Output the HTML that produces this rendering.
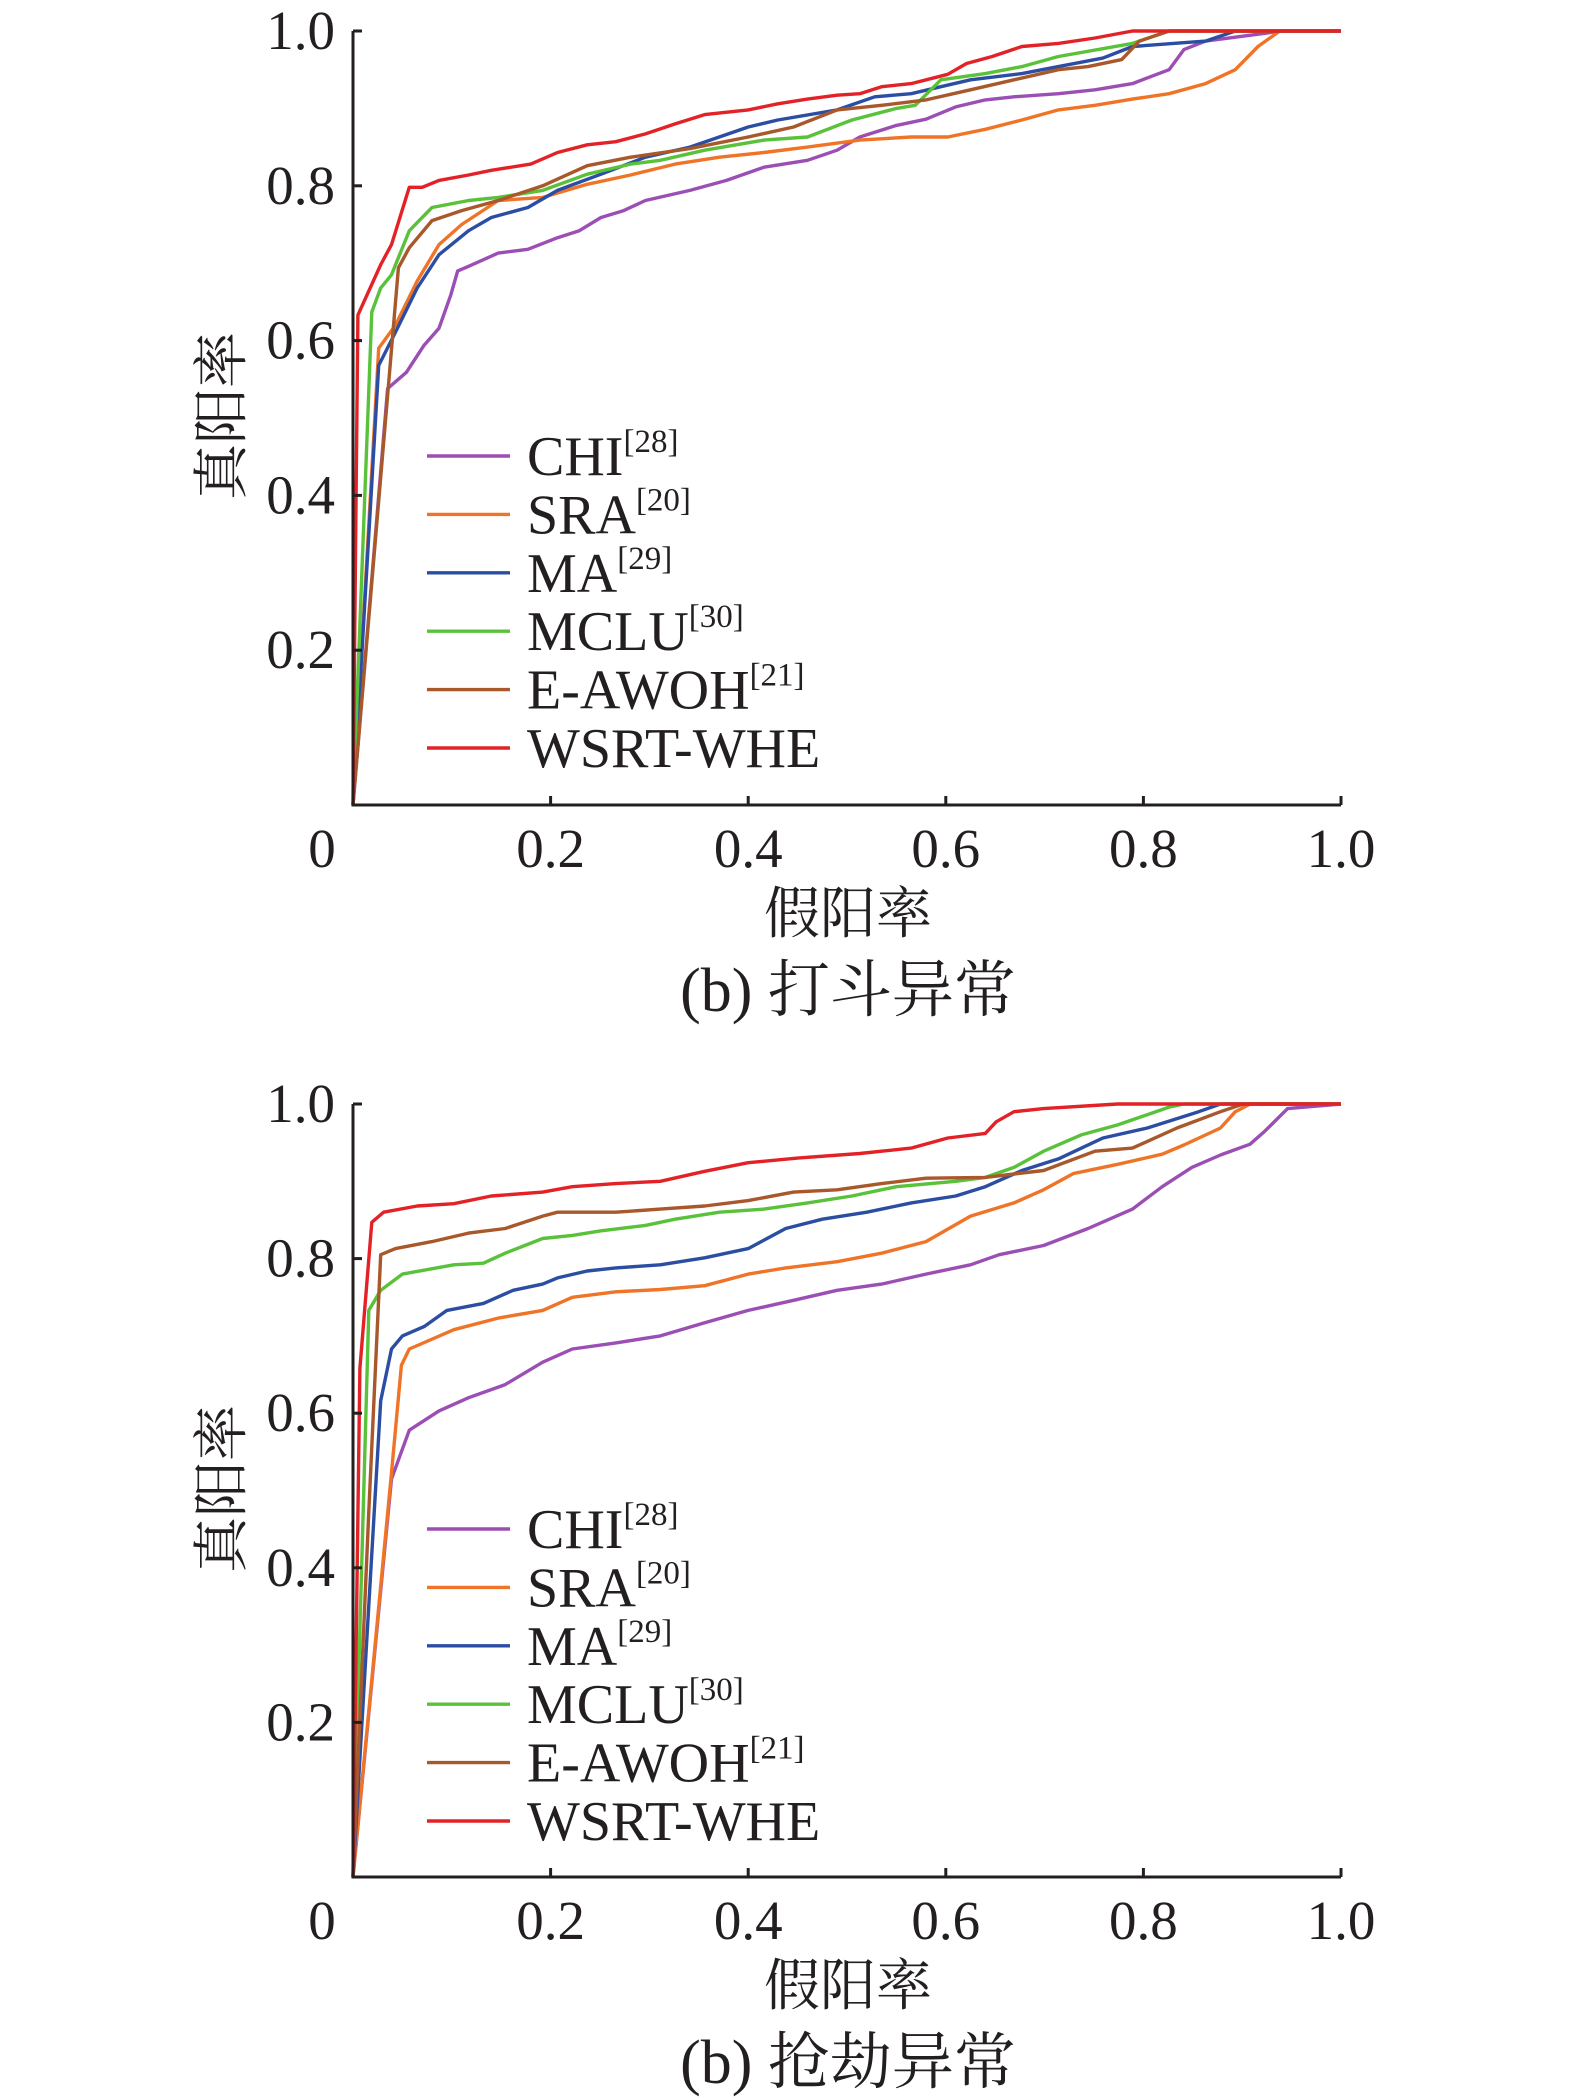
<!DOCTYPE html>
<html><head><meta charset="utf-8"><style>
html,body{margin:0;padding:0;background:#fff;}
svg{display:block;}
text{font-family:"Liberation Serif","Noto Serif CJK SC","Noto Sans CJK SC",serif;fill:#231f20;}
</style></head><body>
<svg id="chart" width="1575" height="2100" viewBox="0 0 1575 2100" xmlns="http://www.w3.org/2000/svg"></svg>
<script>
const seriesNames = ["CHI","SRA","MA","MCLU","E-AWOH","WSRT-WHE"];
const seriesRefs = ["[28]","[20]","[29]","[30]","[21]",""];
const seriesColors = ["#9b4fb4","#f07427","#2b4ea3","#5ac23a","#a8582a","#e32228"];
const tickLabels = ["0","0.2","0.4","0.6","0.8","1.0"];
const tickValues = [0,0.2,0.4,0.6,0.8,1.0];

// Panel 1: 打斗异常
const p1_CHI_x=[0,.035,.054,.072,.087,.099,.106,.117,.147,.177,.207,.229,.251,.274,.296,.341,.378,.416,.46,.49,.513,.55,.58,.61,.64,.669,.714,.751,.789,.826,.841,.863,.923,.938,1];
const p1_CHI_y=[0,.538,.559,.594,.616,.659,.69,.696,.713,.718,.733,.742,.759,.768,.781,.794,.807,.824,.833,.846,.863,.878,.886,.902,.911,.915,.919,.924,.932,.95,.976,.987,.997,1,1];
const p1_SRA_x=[0,.026,.043,.065,.087,.11,.147,.192,.237,.281,.326,.371,.416,.46,.513,.565,.602,.64,.677,.714,.751,.789,.826,.863,.893,.916,.938,1];
const p1_SRA_y=[0,.59,.62,.677,.724,.75,.781,.785,.802,.814,.828,.837,.843,.85,.859,.863,.863,.873,.885,.898,.904,.912,.919,.932,.95,.98,1,1];
const p1_MA_x=[0,.026,.043,.065,.087,.117,.14,.177,.207,.251,.296,.341,.4,.43,.49,.528,.565,.595,.625,.677,.714,.759,.789,.863,.893,1];
const p1_MA_y=[0,.568,.611,.668,.711,.742,.759,.772,.794,.815,.837,.85,.876,.885,.898,.915,.919,.928,.937,.945,.954,.965,.98,.987,1,1];
const p1_MCLU_x=[0,.019,.028,.039,.057,.08,.117,.147,.192,.237,.281,.311,.356,.416,.46,.505,.55,.569,.595,.64,.677,.714,.789,.826,1];
const p1_MCLU_y=[0,.637,.668,.685,.742,.772,.781,.785,.794,.815,.828,.833,.846,.859,.863,.885,.9,.904,.937,.945,.954,.967,.984,1,1];
const p1_EAWOH_x=[0,.035,.046,.057,.08,.11,.147,.192,.237,.281,.341,.4,.446,.49,.535,.58,.625,.669,.714,.744,.778,.796,.826,1];
const p1_EAWOH_y=[0,.529,.694,.72,.755,.768,.781,.8,.826,.837,.848,.863,.876,.898,.904,.911,.924,.937,.95,.954,.963,.987,1,1];
const p1_WSRT_x=[0,.005,.028,.039,.057,.07,.087,.117,.14,.18,.207,.237,.266,.296,.326,.356,.40,.43,.46,.49,.513,.535,.565,.602,.621,.647,.677,.714,.751,.789,1];
const p1_WSRT_y=[0,.633,.698,.724,.798,.798,.807,.814,.82,.828,.843,.853,.857,.867,.88,.892,.898,.906,.912,.917,.919,.928,.932,.944,.958,.967,.98,.984,.991,1,1];

// Panel 2: 抢劫异常
const p2_CHI_x=[0,.039,.057,.087,.117,.154,.192,.222,.266,.311,.356,.4,.446,.49,.535,.58,.625,.654,.699,.744,.789,.819,.849,.878,.908,.923,.946,1];
const p2_CHI_y=[0,.515,.578,.603,.62,.637,.666,.683,.691,.7,.717,.733,.746,.759,.767,.78,.792,.805,.817,.839,.864,.893,.918,.934,.948,.965,.994,1];
const p2_SRA_x=[0,.039,.049,.057,.102,.147,.192,.222,.266,.311,.356,.4,.438,.49,.535,.58,.625,.669,.699,.729,.774,.819,.841,.878,.893,.908,1];
const p2_SRA_y=[0,.523,.662,.683,.708,.723,.733,.75,.757,.76,.765,.78,.788,.796,.807,.822,.855,.872,.889,.91,.922,.935,.947,.969,.99,1,1];
const p2_MA_x=[0,.028,.039,.05,.072,.095,.132,.162,.192,.207,.237,.266,.311,.356,.4,.438,.475,.52,.565,.61,.64,.677,.714,.759,.804,.856,.878,1];
const p2_MA_y=[0,.616,.683,.7,.712,.733,.742,.759,.767,.775,.784,.788,.792,.801,.813,.839,.851,.86,.872,.881,.893,.914,.929,.956,.969,.99,1,1];
const p2_MCLU_x=[0,.016,.028,.05,.102,.132,.154,.192,.222,.251,.296,.326,.371,.416,.46,.505,.55,.61,.64,.669,.699,.737,.774,.826,.841,1];
const p2_MCLU_y=[0,.733,.759,.78,.792,.794,.807,.826,.83,.836,.843,.851,.86,.864,.872,.881,.893,.9,.905,.918,.939,.96,.973,.996,1,1];
const p2_EAWOH_x=[0,.016,.028,.043,.08,.117,.154,.192,.207,.266,.311,.356,.4,.446,.49,.535,.58,.64,.699,.751,.789,.834,.878,.901,1];
const p2_EAWOH_y=[0,.473,.805,.813,.822,.833,.839,.855,.86,.86,.864,.868,.875,.886,.889,.897,.904,.905,.914,.939,.943,.969,.99,1,1];
const p2_WSRT_x=[0,.007,.019,.031,.065,.102,.14,.192,.222,.266,.311,.356,.4,.45,.513,.565,.602,.64,.651,.669,.699,.774,1];
const p2_WSRT_y=[0,.658,.847,.86,.868,.871,.881,.886,.893,.897,.9,.913,.924,.93,.936,.943,.956,.962,.977,.99,.994,1,1];

const panels=[
 {top:31,bottom:805,caption:"(b) 打斗异常",xs:[p1_CHI_x,p1_SRA_x,p1_MA_x,p1_MCLU_x,p1_EAWOH_x,p1_WSRT_x],ys:[p1_CHI_y,p1_SRA_y,p1_MA_y,p1_MCLU_y,p1_EAWOH_y,p1_WSRT_y]},
 {top:1104,bottom:1877,caption:"(b) 抢劫异常",xs:[p2_CHI_x,p2_SRA_x,p2_MA_x,p2_MCLU_x,p2_EAWOH_x,p2_WSRT_x],ys:[p2_CHI_y,p2_SRA_y,p2_MA_y,p2_MCLU_y,p2_EAWOH_y,p2_WSRT_y]}
];
const NS="http://www.w3.org/2000/svg";
const svg=document.getElementById('chart');
function mk(tag,attrs,parent){const e=document.createElementNS(NS,tag);for(const k in attrs)e.setAttribute(k,attrs[k]);(parent||svg).appendChild(e);return e;}
const X0=353,X1=1341;
panels.forEach((p,pi)=>{
  const g=mk('g',{});
  
  
  const sx=v=>X0+v*(X1-X0);
  const sy=v=>p.bottom-v*(p.bottom-p.top);
  p.xs.forEach((xa,si)=>{
    const pts=xa.map((x,i)=>sx(x).toFixed(1)+','+sy(p.ys[si][i]).toFixed(1)).join(' ');
    const l=mk('polyline',{points:pts,fill:'none',stroke:seriesColors[si],'stroke-width':3.4,'stroke-linejoin':'round'},g);
    
    
  });
  const ax=mk('path',{d:`M${X0},${p.top} V${p.bottom} H${X1}`,fill:'none',stroke:'#231f20','stroke-width':3},g);
  
  
  tickValues.forEach((v,i)=>{
    if(i>0){
      mk('line',{x1:sx(v),x2:sx(v),y1:p.bottom,y2:p.bottom-9,stroke:'#231f20','stroke-width':3},g);
      mk('line',{x1:X0,x2:X0+9,y1:sy(v),y2:sy(v),stroke:'#231f20','stroke-width':3},g);
      const yt=mk('text',{x:335,y:sy(v)+18,'text-anchor':'end','font-size':55},g);
      yt.textContent=tickLabels[i];
      
      
    }
    const xt=mk('text',{x:i===0?322:sx(v),y:p.bottom+62,'text-anchor':'middle','font-size':55},g);
    xt.textContent=tickLabels[i];
    
    
  });
  const xtl=mk('text',{x:848,y:p.bottom+128,'text-anchor':'middle','font-size':56},g);
  xtl.textContent='假阳率';
  
  
  const cy=p.top+385;
  const ytl=mk('text',{x:0,y:0,'text-anchor':'middle','font-size':56,transform:`translate(241,${cy}) rotate(-90)`},g);
  ytl.textContent='真阳率';
  
  
  const cap=mk('text',{x:848,y:p.bottom+206,'text-anchor':'middle','font-size':62},g);
  cap.textContent=p.caption;
  
  
  const lg=mk('g',{},g);
  
  
  seriesNames.forEach((n,si)=>{
    const ry=p.top+425+si*58.4;
    const e=mk('g',{},lg);
    
    
    mk('line',{x1:427,x2:510,y1:ry,y2:ry,stroke:seriesColors[si],'stroke-width':3.4},e);
    const t=mk('text',{x:527,y:ry+19,'font-size':56},e);
    t.textContent=n;
    if(seriesRefs[si]){const s=mk('tspan',{'font-size':33,dy:-23},t);s.textContent=seriesRefs[si];}
  });
});
</script>
</body></html>
